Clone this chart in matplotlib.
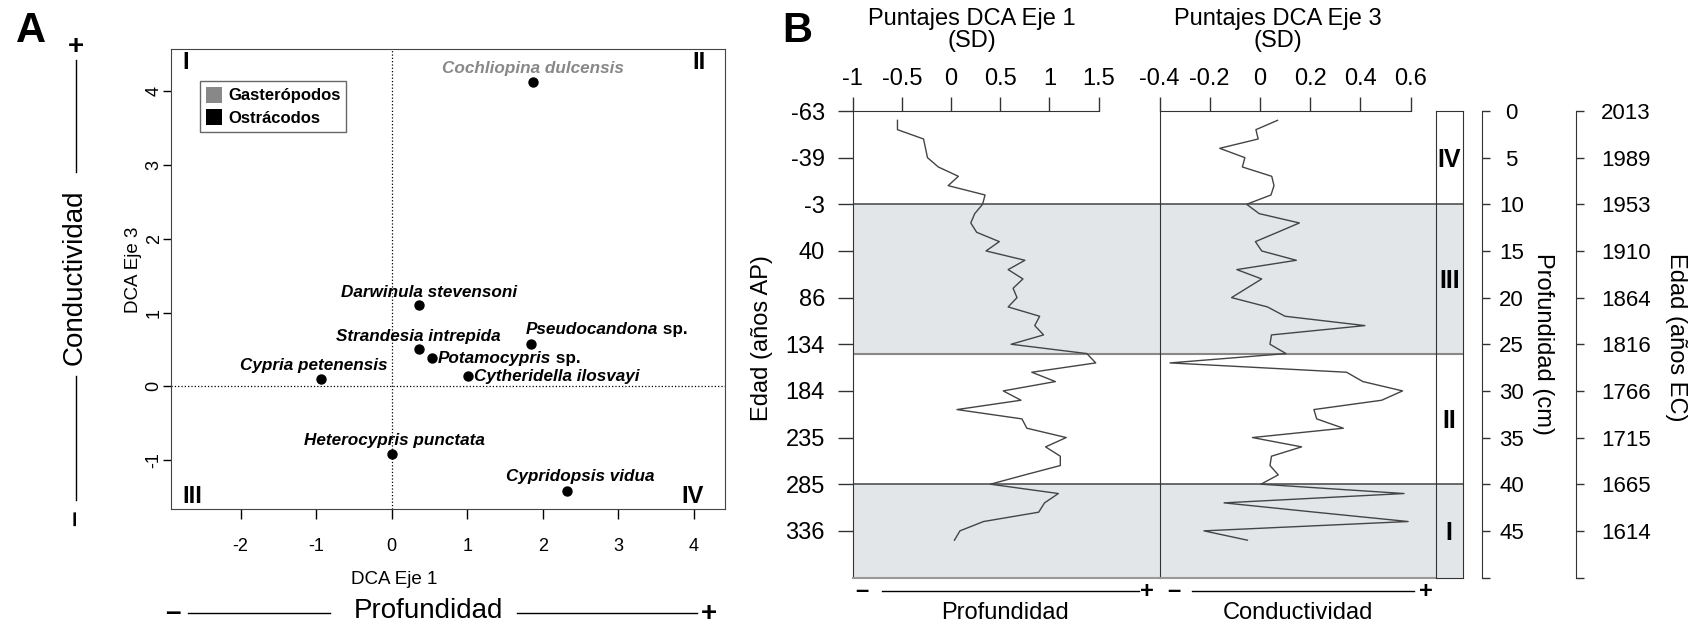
import matplotlib.pyplot as plt
from matplotlib.patches import Patch
from matplotlib.lines import Line2D
from matplotlib.transforms import blended_transform_factory

plt.rcParams['font.family'] = ['Liberation Sans', 'DejaVu Sans']

# ---------------- panel A: DCA species scores ----------------
species = ['Cochliopina dulcensis', 'Darwinula stevensoni', 'Strandesia intrepida',
           'Pseudocandona', 'Potamocypris', 'Cytheridella ilosvayi',
           'Cypria petenensis', 'Heterocypris punctata', 'Cypridopsis vidua']
species_suffix = ['', '', '', ' sp.', ' sp.', '', '', '', '']
group = ['Gasterópodos'] + ['Ostrácodos'] * 8
dca1 = [1.87, 0.36, 0.36, 1.84, 0.53, 1.01, -0.93, 0.00, 2.32]
dca3 = [4.12, 1.10, 0.51, 0.57, 0.39, 0.14, 0.10, -0.91, -1.42]
group_colors = {'Gasterópodos': '#888888', 'Ostrácodos': 'black'}
quadrants = ['I', 'II', 'III', 'IV']
a_xticks = [-2, -1, 0, 1, 2, 3, 4]
a_yticks = [-1, 0, 1, 2, 3, 4]

# ---------------- panel B: stratigraphic DCA scores ----------------
depth = list(range(1, 47))
eje1 = [-0.545, -0.545, -0.28, -0.26, -0.24, -0.13, 0.074, -0.03, 0.345, 0.32,
        0.24, 0.20, 0.26, 0.49, 0.355, 0.75, 0.58, 0.73, 0.63, 0.67,
        0.58, 0.90, 0.85, 0.94, 0.61, 1.38, 1.47, 0.82, 1.06, 0.53,
        0.71, 0.06, 0.72, 0.77, 1.17, 0.96, 1.11, 1.11, 0.75, 0.40,
        1.09, 0.95, 0.89, 0.33, 0.09, 0.034]
eje3 = [0.07, -0.016, -0.007, -0.16, -0.06, -0.07, 0.047, 0.056, 0.044, -0.053,
        -0.003, 0.157, 0.07, -0.018, 0.007, 0.145, -0.092, 0.007, -0.053, -0.113,
        0.03, 0.10, 0.418, 0.046, 0.04, 0.104, -0.358, 0.345, 0.41, 0.568,
        0.485, 0.215, 0.226, 0.332, -0.03, 0.166, 0.046, 0.04, 0.073, 0.004,
        0.574, -0.143, 0.22, 0.59, -0.223, -0.05]
zone_edges = [0, 10, 26, 40, 50]
zone_names = ['IV', 'III', 'II', 'I']
shaded_zones = ['III', 'I']
tick_depth = [0, 5, 10, 15, 20, 25, 30, 35, 40, 45]
age_ap = [-63, -39, -3, 40, 86, 134, 184, 235, 285, 336]
age_ec = [2013, 1989, 1953, 1910, 1864, 1816, 1766, 1715, 1665, 1614]
eje1_ticks = [-1, -0.5, 0, 0.5, 1, 1.5]
eje3_ticks = [-0.4, -0.2, 0, 0.2, 0.4, 0.6]

W, H = 1697, 626
fig = plt.figure(figsize=(W / 100, H / 100), dpi=100, facecolor='white')


def px_axes(x0, x1, y0, y1):
    return fig.add_axes([x0 / W, 1 - y1 / H, (x1 - x0) / W, (y1 - y0) / H])


def ftext(x, y, s, **kw):
    kw.setdefault('ha', 'center')
    kw.setdefault('va', 'center')
    return fig.text(x / W, 1 - y / H, s, **kw)


def fline(x0, x1, y0, y1, **kw):
    fig.add_artist(Line2D([x0 / W, x1 / W], [1 - y0 / H, 1 - y1 / H],
                          transform=fig.transFigure, color='black', lw=1, **kw))


# ================= panel A =================
axA = px_axes(171, 725, 48.7, 508.7)
axA.set_xlim(-2.92, 4.41)
axA.set_ylim(-1.656, 4.574)
axA.axvline(0, color='black', ls=':', lw=0.9)
axA.axhline(0, color='black', ls=':', lw=0.9)
axA.scatter(dca1, dca3, s=42, color='black', zorder=3)

lab_off = [(0, 0.19, 'center'), (0.14, 0.17, 'center'), (-0.01, 0.17, 'center'),
           (-0.07, 0.20, 'left'), (0.085, -0.01, 'left'), (0.08, 0.0, 'left'),
           (-0.10, 0.19, 'center'), (0.04, 0.175, 'center'), (0.18, 0.20, 'center')]
for name, suf, g, x, y, (dx, dy, ha) in zip(species, species_suffix, group,
                                             dca1, dca3, lab_off):
    t = axA.text(x + dx, y + dy, name, ha=ha, va='center', fontsize=12.3,
                 fontweight='bold', fontstyle='italic', color=group_colors[g])
    if suf:
        axA.annotate(suf, xy=(1, 0), xycoords=t, ha='left', va='bottom',
                     fontsize=12.3, fontweight='bold', color=group_colors[g])

qpos = [(0.02, 0.97, 'left'), (0.965, 0.97, 'right'),
        (0.02, 0.027, 'left'), (0.962, 0.027, 'right')]
for q, (qx, qy, ha) in zip(quadrants, qpos):
    axA.text(qx, qy, q, transform=axA.transAxes, ha=ha, va='center',
             fontsize=17, fontweight='bold')

handles = [Patch(facecolor=c, edgecolor=c, label=g) for g, c in group_colors.items()]
leg = axA.legend(handles=handles, loc='upper left', bbox_to_anchor=(0.052, 0.93),
                 borderaxespad=0, fancybox=False, framealpha=1, edgecolor='#666666',
                 prop={'weight': 'bold', 'size': 12}, handlelength=1.0,
                 handleheight=1.1, handletextpad=0.35, labelspacing=0.35,
                 borderpad=0.35)
leg.get_frame().set_linewidth(1.0)
for h in leg.legend_handles:
    h.set_linewidth(0)

axA.set_xticks(a_xticks)
axA.set_xticklabels([str(v) for v in a_xticks])
axA.set_yticks(a_yticks)
axA.set_yticklabels([str(v) for v in a_yticks])
axA.tick_params(axis='x', direction='out', length=7, width=1, labelsize=13, pad=14)
axA.tick_params(axis='y', direction='out', length=6, width=1, labelsize=13, pad=0,
                labelrotation=90)
for lab in axA.get_yticklabels():
    lab.set_va('center')
for sp in axA.spines.values():
    sp.set_color('#444444')

ftext(394, 580, 'DCA Eje 1', fontsize=13.5)
ftext(134, 270, 'DCA Eje 3', fontsize=13.5, rotation=90)

# outer gradient annotations
ftext(31, 31, 'A', fontsize=30, fontweight='bold')
ftext(76, 47, '+', fontsize=20, fontweight='bold')
fline(76, 76, 60, 172)
ftext(75, 277, 'Conductividad', fontsize=20, rotation=90)
fline(76, 76, 376, 500)
ftext(75, 518, '\u2013', fontsize=20, fontweight='bold', rotation=90)

ftext(173, 613, '\u2013', fontsize=20, fontweight='bold')
fline(188, 330, 613, 613)
ftext(428, 611, 'Profundidad', fontsize=20)
fline(517, 697, 613, 613)
ftext(709, 614, '+', fontsize=20, fontweight='bold')

# ================= panel B =================
top, bot = 111, 577.5
ax1 = px_axes(852.7, 1159.5, top, bot)
ax2 = px_axes(1159.5, 1435.7, top, bot)
axz = px_axes(1435.7, 1462.7, top, bot)
axd = px_axes(1460, 1481.7, top, bot)
axa = px_axes(1555, 1576, top, bot)

shade = '#e2e6e9'
spine_c = '#333333'
for ax in (ax1, ax2, axz):
    ax.set_ylim(50, 0)
    for name, lo, hi in zip(zone_names, zone_edges[:-1], zone_edges[1:]):
        if name in shaded_zones:
            ax.axhspan(lo, hi, color=shade, lw=0, zorder=0)
    for b in zone_edges[1:-1]:
        c = '#888888' if b == 26 else '#444444'
        ax.axhline(b, color=c, lw=1.5 if b == 26 else 1.1, zorder=1)
    for sp in ax.spines.values():
        sp.set_color(spine_c)

ax1.plot(eje1, depth, color='#444444', lw=1.0, zorder=2)
ax2.plot(eje3, depth, color='#444444', lw=1.0, zorder=2)
ax1.set_xlim(-1, 2.118)
ax2.set_xlim(-0.4, 0.70)

for ax, ticks in ((ax1, eje1_ticks), (ax2, eje3_ticks)):
    ax.xaxis.tick_top()
    ax.set_xticks(ticks)
    ax.set_xticklabels([f'{t:g}' for t in ticks])
    ax.spines['top'].set_bounds(ticks[0], ticks[-1])
    ax.spines['right'].set_visible(False)
    ax.spines['bottom'].set_color('#999999')
    ax.spines['bottom'].set_linewidth(1.5)
    ax.tick_params(axis='x', direction='out', length=10, width=1, color=spine_c,
                   labelsize=17, pad=5)

ax1.set_yticks(tick_depth)
ax1.set_yticklabels([str(a) for a in age_ap])
ax1.tick_params(axis='y', direction='out', length=11, width=1, color=spine_c,
                labelsize=17, pad=9)
ax2.tick_params(axis='y', left=False, labelleft=False)

axz.set_xticks([])
axz.set_yticks([])
tz = blended_transform_factory(axz.transAxes, axz.transData)
for name, lo, hi in zip(zone_names, zone_edges[:-1], zone_edges[1:]):
    axz.text(0.5, (lo + hi) / 2 + 0.2, name, transform=tz, ha='center', va='center',
             fontsize=18, fontweight='bold')

for ax, labels, ha, pad in ((axd, [str(d) for d in tick_depth], 'center', 16),
                            (axa, [str(a) for a in age_ec], 'left', 12.5)):
    ax.set_ylim(50, 0)
    ax.patch.set_visible(False)
    for k in ('left', 'top', 'bottom'):
        ax.spines[k].set_visible(False)
    ax.spines['right'].set_color(spine_c)
    ax.set_xticks([])
    ax.yaxis.tick_right()
    ax.set_yticks(tick_depth + [50])
    ax.set_yticklabels(labels + [''])
    ax.tick_params(axis='y', direction='out', length=5.5, width=1, color=spine_c,
                   labelsize=16, pad=pad)
    for lab in ax.get_yticklabels():
        lab.set_ha(ha)

ftext(797, 31, 'B', fontsize=30, fontweight='bold')
ftext(972, 30, 'Puntajes DCA Eje 1\n(SD)', fontsize=17, linespacing=1.05)
ftext(1278, 30, 'Puntajes DCA Eje 3\n(SD)', fontsize=17, linespacing=1.05)
ftext(762, 338, 'Edad (años AP)', fontsize=17, rotation=90)
ftext(1543, 344, 'Profundidad (cm)', fontsize=17, rotation=-90)
ftext(1676, 337, 'Edad (años EC)', fontsize=17, rotation=-90)

ftext(862, 591, '\u2013', fontsize=17, fontweight='bold')
fline(882, 1139, 591, 591)
ftext(1147, 592, '+', fontsize=17, fontweight='bold')
ftext(1174, 591, '\u2013', fontsize=17, fontweight='bold')
fline(1192, 1414, 591, 591)
ftext(1426, 592, '+', fontsize=17, fontweight='bold')
ftext(1005, 613, 'Profundidad', fontsize=17)
ftext(1298, 613, 'Conductividad', fontsize=17)

fig.savefig('out.png', dpi=100, facecolor='white')
